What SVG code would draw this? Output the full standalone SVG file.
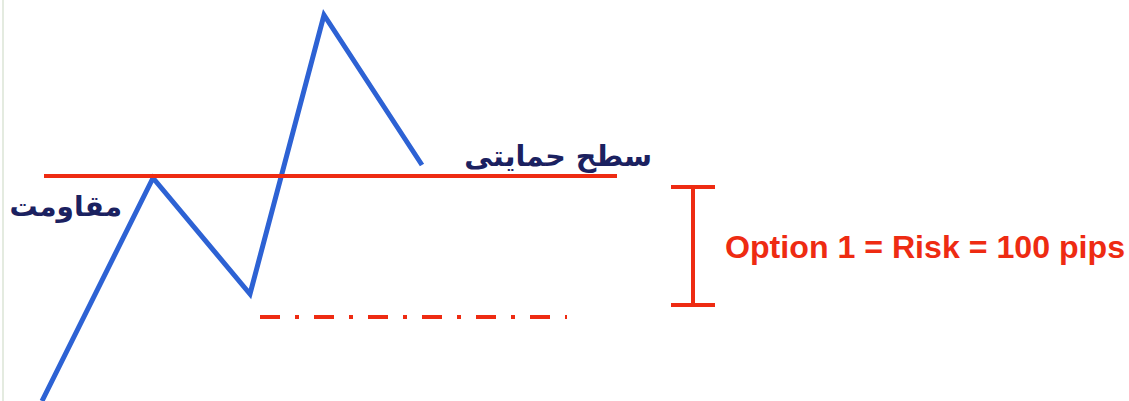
<svg xmlns="http://www.w3.org/2000/svg" width="1129" height="401" viewBox="0 0 1129 401">
<style>
.red{stroke:#ee2b12;stroke-width:4;fill:none}
.blue{stroke:#2d62d4;stroke-width:5;fill:none;stroke-linejoin:miter}
.ar{font-family:"DejaVu Sans","Noto Sans",sans-serif;font-weight:bold;fill:#1b2160}
.lbl{font-family:"Liberation Sans",Arial,sans-serif;font-weight:bold;fill:#ee2b12}
</style>
<rect width="1129" height="401" fill="#ffffff"/>
<line x1="3" y1="0" x2="3" y2="401" stroke="#e4ebe0" stroke-width="2"/>
<g id="connectors">
<polyline id="price" class="blue" points="42,401 153,178 250,294 324,15 422,165"/>
<line id="resistance" class="red" x1="44" y1="176" x2="617" y2="176"/>
<line id="stop" class="red" x1="260" y1="317" x2="567" y2="317" stroke-dasharray="20 15 4 15"/>
<g id="bracket" class="red" stroke-width="3.5">
<line x1="693" y1="186" x2="693" y2="306"/>
<line x1="671" y1="187" x2="715" y2="187"/>
<line x1="671" y1="305" x2="715" y2="305"/>
</g>
</g>
<g id="label-resistance"><text class="ar" x="122" y="216" font-size="28" text-anchor="start" direction="rtl">مقاومت</text></g>
<g id="label-support"><text class="ar" x="652" y="166" font-size="28.5" text-anchor="start" direction="rtl">سطح حمایتی</text></g>
<g id="label-risk"><text class="lbl" x="725" y="258" font-size="32" textLength="400" lengthAdjust="spacingAndGlyphs">Option 1 = Risk = 100 pips</text></g>
</svg>
